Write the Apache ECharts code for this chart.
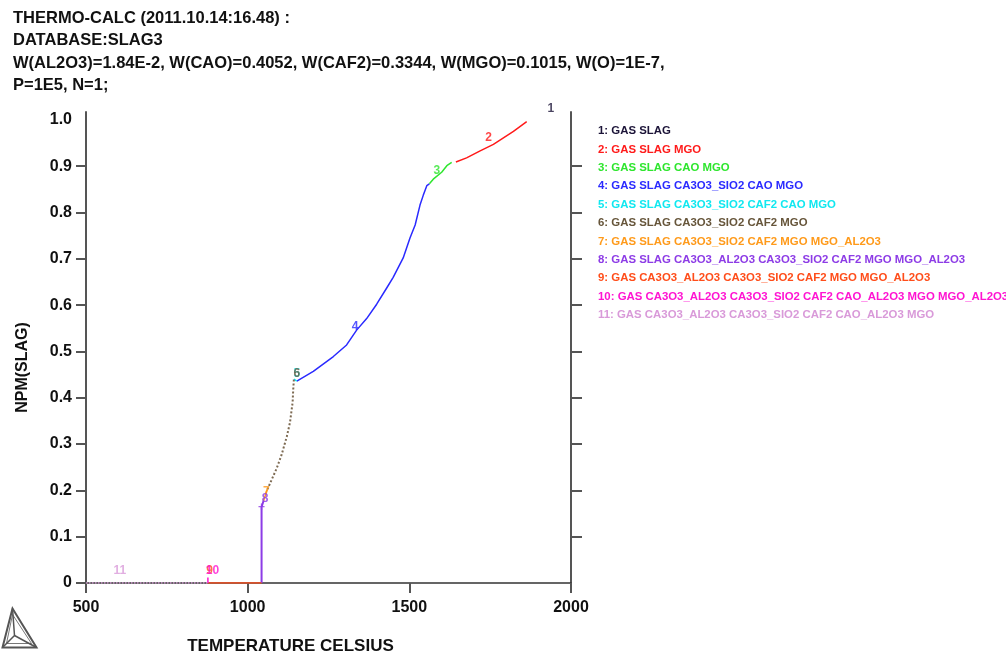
<!DOCTYPE html>
<html>
<head>
<meta charset="utf-8">
<title>NPM(SLAG)</title>
<script src="https://cdn.jsdelivr.net/npm/echarts@6/dist/echarts.min.js"></script>
<style>
  html, body { margin: 0; padding: 0; background: #fff; }
  #main { width: 1006px; height: 660px; }
</style>
</head>
<body>
<div id="main"></div>
<script>
// header text
const headerLines = [
  'THERMO-CALC (2011.10.14:16.48) :',
  'DATABASE:SLAG3',
  'W(AL2O3)=1.84E-2, W(CAO)=0.4052, W(CAF2)=0.3344, W(MGO)=0.1015, W(O)=1E-7,',
  'P=1E5, N=1;'
];

// axis ticks
const xTicks = [500, 1000, 1500, 2000];
const yTicks = [0, 0.1, 0.2, 0.3, 0.4, 0.5, 0.6, 0.7, 0.8, 0.9, 1.0];

// phase region names (legend)
const regionNames = [
  '1: GAS SLAG',
  '2: GAS SLAG MGO',
  '3: GAS SLAG CAO MGO',
  '4: GAS SLAG CA3O3_SIO2 CAO MGO',
  '5: GAS SLAG CA3O3_SIO2 CAF2 CAO MGO',
  '6: GAS SLAG CA3O3_SIO2 CAF2 MGO',
  '7: GAS SLAG CA3O3_SIO2 CAF2 MGO MGO_AL2O3',
  '8: GAS SLAG CA3O3_AL2O3 CA3O3_SIO2 CAF2 MGO MGO_AL2O3',
  '9: GAS CA3O3_AL2O3 CA3O3_SIO2 CAF2 MGO MGO_AL2O3',
  '10: GAS CA3O3_AL2O3 CA3O3_SIO2 CAF2 CAO_AL2O3 MGO MGO_AL2O3',
  '11: GAS CA3O3_AL2O3 CA3O3_SIO2 CAF2 CAO_AL2O3 MGO'
];
const regionColors = ['#1c1438', '#ff1a1a', '#2ee62e', '#2a2aff', '#10e8f0', '#66553a',
  '#ff9a1a', '#8d3ce6', '#ff4d1a', '#ff14d2', '#d99ad9'];

// curve segments [temperature, NPM(SLAG)]
const seg1 = [];
const seg2 = [[1644, 0.909], [1677, 0.918], [1719, 0.933], [1760, 0.947], [1791, 0.961], [1822, 0.975], [1863, 0.996]];
const seg3 = [[1562, 0.862], [1574, 0.872], [1600, 0.887], [1616, 0.901], [1631, 0.908]];
const seg4 = [[1152, 0.436], [1203, 0.457], [1265, 0.489], [1306, 0.514], [1337, 0.546], [1368, 0.571],
  [1399, 0.602], [1430, 0.637], [1450, 0.660], [1481, 0.702], [1502, 0.745], [1518, 0.773],
  [1533, 0.816], [1543, 0.837], [1554, 0.858], [1562, 0.862]];
const seg5 = [[1143, 0.440], [1152, 0.436]];
const seg6 = [[1061, 0.202], [1090, 0.248], [1105, 0.277], [1121, 0.316], [1131, 0.347], [1139, 0.390], [1141, 0.419], [1143, 0.440]];
const seg7 = [[1049, 0.177], [1061, 0.202]];
const seg8 = [[1043, 0], [1043, 0.164], [1049, 0.177]];
const seg9 = [[876, 0], [1043, 0]];
const seg10 = [[877, 0], [877, 0.012]];
const seg11 = [[500, 0], [876, 0]];
const segments = [seg1, seg2, seg3, seg4, seg5, seg6, seg7, seg8, seg9, seg10, seg11];
const dottedSegments = [5, 10];

// curve labels [text, temperature, value, region index]
const curveLabels = [
  ['1', 1938, 1.025, 0],
  ['2', 1745, 0.962, 1],
  ['3', 1585, 0.891, 2],
  ['4', 1332, 0.553, 3],
  ['5', 1152, 0.453, 4],
  ['6', 1152, 0.451, 5],
  ['7', 1058, 0.198, 6],
  ['8', 1054, 0.181, 7],
  ['+', 1043, 0.162, 7],
  ['9', 882, 0.026, 8],
  ['10', 891, 0.026, 9],
  ['11', 605, 0.026, 10]
];

const chart = echarts.init(document.getElementById('main'));
const axisFont = 'Liberation Sans';
const narrowFont = '"Liberation Sans Narrow", "Liberation Sans", sans-serif';

const lineSeries = segments.map(function (seg, i) {
  return {
    name: regionNames[i],
    type: 'line',
    data: seg,
    symbol: 'none',
    showSymbol: false,
    xAxisIndex: 0,
    yAxisIndex: 0,
    color: regionColors[i],
    lineStyle: {
      color: i === 5 ? '#7d6a52' : regionColors[i],
      width: (i === 7 || i === 5) ? 2 : 1.5,
      type: dottedSegments.indexOf(i) >= 0 ? 'dotted' : 'solid'
    },
    z: 3
  };
});

const labelSeries = {
  name: 'labels',
  type: 'scatter',
  clip: false,
  symbol: 'circle',
  symbolSize: 1,
  itemStyle: { color: 'rgba(0,0,0,0)' },
  data: curveLabels.map(function (l) {
    return {
      value: [l[1], l[2], l[0]],
      label: { color: regionColors[l[3]] }
    };
  }),
  label: {
    show: true,
    position: 'inside',
    formatter: function (p) { return p.value[2]; },
    fontFamily: axisFont,
    fontWeight: 'bold',
    fontSize: 12
  },
  emphasis: { disabled: true },
  z: 5
};

const option = {
  animation: false,
  backgroundColor: '#ffffff',
  title: {
    text: headerLines.join('\n'),
    left: 8,
    top: 2,
    textStyle: {
      fontFamily: narrowFont,
      fontWeight: 'bold',
      fontSize: 16.5,
      lineHeight: 22.5,
      color: '#111'
    }
  },
  legend: {
    orient: 'vertical',
    left: 588,
    top: 120,
    icon: 'none',
    itemWidth: 0,
    itemHeight: 12,
    itemGap: 6.9,
    selectedMode: false,
    align: 'left',
    textStyle: { fontFamily: axisFont, fontWeight: 'bold', fontSize: 11.4 },
    data: regionNames.map(function (n, i) {
      return { name: n, textStyle: { color: regionColors[i] } };
    })
  },
  grid: { left: 86, right: 435, top: 112, bottom: 70, containLabel: false },
  xAxis: [
    {
      type: 'value',
      position: 'bottom',
      min: 500,
      max: 2000,
      interval: 500,
      name: 'TEMPERATURE CELSIUS',
      nameLocation: 'middle',
      nameGap: 55,
      nameTextStyle: {
        fontFamily: narrowFont, fontWeight: 'bold', fontSize: 17, color: '#111',
        padding: [0, 76, 0, 0]
      },
      axisLine: { show: true, onZero: false, lineStyle: { color: '#333', width: 1.5 } },
      axisTick: { show: true, inside: false, length: 10, lineStyle: { color: '#555', width: 2 } },
      axisLabel: {
        margin: 17,
        fontFamily: axisFont, fontWeight: 'bold', fontSize: 16, color: '#111',
        customValues: xTicks,
        formatter: function (v) { return String(v); }
      },
      splitLine: { show: false }
    },
    {
      type: 'value',
      position: 'top',
      min: 500,
      max: 2000,
      interval: 500,
      axisLine: { show: false },
      axisTick: { show: true, inside: true, length: 9, lineStyle: { color: '#555', width: 2 }, customValues: [1000, 1500] },
      axisLabel: { show: false },
      splitLine: { show: false }
    }
  ],
  yAxis: [
    {
      type: 'value',
      position: 'left',
      min: 0,
      max: 1.017,
      name: 'NPM(SLAG)',
      nameLocation: 'middle',
      nameGap: 55,
      nameRotate: 90,
      nameTextStyle: {
        fontFamily: narrowFont, fontWeight: 'bold', fontSize: 16, color: '#111',
        padding: [0, 40, 0, 0]
      },
      axisLine: { show: true, onZero: false, lineStyle: { color: '#555', width: 2 } },
      axisTick: { show: true, inside: false, length: 10, lineStyle: { color: '#555', width: 2 }, customValues: yTicks.slice(0, 10) },
      axisLabel: {
        margin: 14,
        fontFamily: axisFont, fontWeight: 'bold', fontSize: 16, color: '#111',
        customValues: yTicks,
        formatter: function (v) { return v === 0 ? '0' : v.toFixed(1); }
      },
      splitLine: { show: false }
    },
    {
      type: 'value',
      position: 'right',
      min: 0,
      max: 1.017,
      axisLine: { show: true, onZero: false, lineStyle: { color: '#555', width: 2 } },
      axisTick: { show: true, inside: false, length: 11, lineStyle: { color: '#555', width: 2 }, customValues: yTicks.slice(1, 10) },
      axisLabel: { show: false },
      splitLine: { show: false }
    }
  ],
  graphic: [
    {
      type: 'group',
      left: 0,
      top: 606,
      children: [
        { type: 'polygon', shape: { points: [[10, 0], [0, 39], [34, 39]] }, style: { fill: 'none', stroke: '#555', lineWidth: 2 } },
        { type: 'polygon', shape: { points: [[10, 6], [4, 35], [29, 35]] }, style: { fill: 'none', stroke: '#777', lineWidth: 1 } },
        { type: 'polyline', shape: { points: [[10, 0], [12, 27], [0, 39]] }, style: { fill: 'none', stroke: '#555', lineWidth: 1.5 } },
        { type: 'line', shape: { x1: 12, y1: 27, x2: 34, y2: 39 }, style: { stroke: '#555', lineWidth: 1.5 } }
      ]
    }
  ],
  series: lineSeries.concat([labelSeries])
};

chart.setOption(option);
</script>
</body>
</html>
